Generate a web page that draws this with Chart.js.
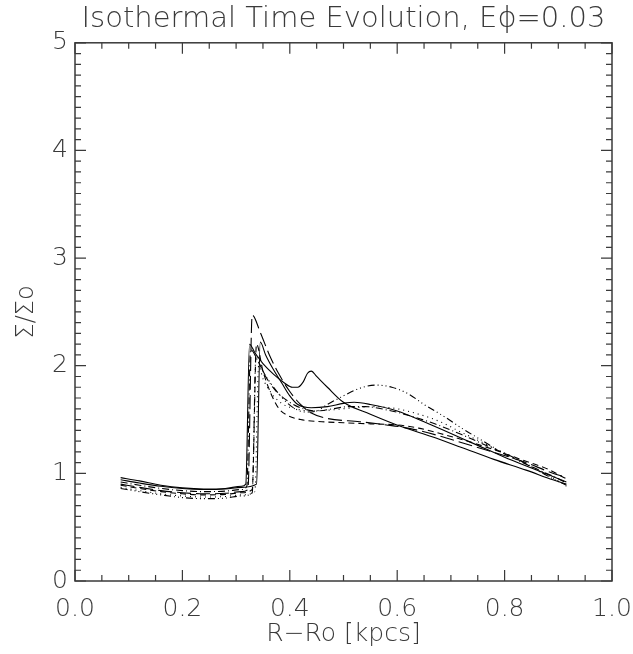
<!DOCTYPE html>
<html>
<head>
<meta charset="utf-8">
<script src="https://cdn.jsdelivr.net/npm/chart.js@4"></script>
<style>
	body { margin: 0; background: #ffffff; }
	canvas { display: block; }
</style>
</head>
<body>
<canvas id="evoChart" width="633" height="654"></canvas>
<script>
// Surface density profiles, one per time step (R-Ro in kpcs, Sigma/Sigma_o)
const xSolidA = [0.085, 0.12, 0.16, 0.2, 0.24, 0.28, 0.31, 0.318, 0.325, 0.335, 0.35, 0.37, 0.39, 0.405, 0.415, 0.425, 0.433, 0.44, 0.45, 0.47, 0.5, 0.55, 0.61, 0.665, 0.72, 0.78, 0.84, 0.89, 0.915];
const ySolidA = [0.96, 0.93, 0.89, 0.865, 0.855, 0.86, 0.88, 0.9, 2.2, 2.12, 2.02, 1.92, 1.84, 1.8, 1.8, 1.85, 1.93, 1.95, 1.9, 1.8, 1.66, 1.55, 1.43, 1.34, 1.24, 1.13, 1.03, 0.94, 0.9];

const xSolidB = [0.085, 0.12, 0.16, 0.2, 0.24, 0.28, 0.31, 0.338, 0.345, 0.355, 0.37, 0.385, 0.4, 0.415, 0.44, 0.47, 0.5, 0.52, 0.55, 0.6, 0.65, 0.7, 0.75, 0.8, 0.85, 0.9, 0.915];
const ySolidB = [0.94, 0.91, 0.88, 0.86, 0.85, 0.855, 0.87, 0.9, 2.22, 2.1, 1.96, 1.84, 1.72, 1.64, 1.61, 1.62, 1.65, 1.66, 1.64, 1.58, 1.48, 1.37, 1.26, 1.15, 1.05, 0.95, 0.92];

const xLongDash = [0.085, 0.12, 0.16, 0.2, 0.24, 0.28, 0.31, 0.322, 0.33, 0.345, 0.362, 0.38, 0.4, 0.42, 0.44, 0.47, 0.53, 0.58, 0.62, 0.67, 0.73, 0.79, 0.84, 0.88, 0.915];
const yLongDash = [0.9, 0.87, 0.84, 0.82, 0.81, 0.815, 0.83, 0.85, 2.47, 2.31, 2.1, 1.92, 1.76, 1.64, 1.56, 1.51, 1.48, 1.45, 1.42, 1.36, 1.27, 1.18, 1.1, 1.02, 0.96];

const xDashDot3 = [0.085, 0.12, 0.16, 0.2, 0.24, 0.28, 0.31, 0.33, 0.337, 0.35, 0.37, 0.39, 0.41, 0.43, 0.45, 0.47, 0.5, 0.53, 0.56, 0.59, 0.62, 0.65, 0.69, 0.72, 0.76, 0.8, 0.85, 0.89, 0.915];
const yDashDot3 = [0.86, 0.83, 0.8, 0.775, 0.765, 0.77, 0.79, 0.82, 2.1, 1.95, 1.8, 1.68, 1.6, 1.57, 1.58, 1.64, 1.72, 1.79, 1.82, 1.8, 1.74, 1.64, 1.52, 1.42, 1.3, 1.18, 1.06, 0.95, 0.89];

const xDotted = [0.085, 0.12, 0.16, 0.2, 0.24, 0.28, 0.31, 0.335, 0.342, 0.35, 0.365, 0.385, 0.41, 0.44, 0.48, 0.52, 0.56, 0.6, 0.64, 0.68, 0.72, 0.77, 0.82, 0.86, 0.9, 0.915];
const yDotted = [0.87, 0.84, 0.81, 0.79, 0.78, 0.785, 0.8, 0.83, 2.0, 1.88, 1.75, 1.65, 1.6, 1.58, 1.59, 1.61, 1.62, 1.6, 1.55, 1.48, 1.38, 1.26, 1.14, 1.03, 0.93, 0.88];

const xDashDot = [0.085, 0.12, 0.16, 0.2, 0.24, 0.28, 0.31, 0.32, 0.327, 0.34, 0.355, 0.375, 0.4, 0.425, 0.45, 0.48, 0.51, 0.54, 0.58, 0.62, 0.67, 0.72, 0.77, 0.82, 0.86, 0.9, 0.915];
const yDashDot = [0.92, 0.89, 0.86, 0.84, 0.83, 0.835, 0.85, 0.88, 2.15, 2.05, 1.9, 1.76, 1.66, 1.6, 1.58, 1.6, 1.62, 1.62, 1.59, 1.54, 1.46, 1.36, 1.25, 1.14, 1.04, 0.95, 0.91];

const xDashed = [0.085, 0.12, 0.16, 0.2, 0.24, 0.28, 0.31, 0.33, 0.338, 0.35, 0.365, 0.38, 0.395, 0.42, 0.46, 0.5, 0.55, 0.6, 0.64, 0.68, 0.73, 0.78, 0.83, 0.88, 0.915];
const yDashed = [0.89, 0.86, 0.83, 0.81, 0.8, 0.805, 0.82, 0.85, 2.2, 1.95, 1.74, 1.6, 1.54, 1.5, 1.48, 1.47, 1.46, 1.45, 1.42, 1.37, 1.3, 1.22, 1.13, 1.04, 0.95];

// Axis ticks
const xTicks = [0.0, 0.2, 0.4, 0.6, 0.8, 1.0];
const yTicks = [0, 1, 2, 3, 4, 5];

const INK = '#3a3a3a';
const FONT = 'DejaVu Sans';

function toPoints(xs, ys) {
	return xs.map((x, i) => ({ x: x, y: ys[i] }));
}

function series(xs, ys, dash) {
	return {
		data: toPoints(xs, ys),
		borderColor: '#000000',
		borderWidth: 1.1,
		borderDash: dash,
		pointRadius: 0,
		fill: false,
		cubicInterpolationMode: 'monotone'
	};
}

// Inward ticks on all four sides plus the frame
const framePlugin = {
	id: 'frame',
	afterDatasetsDraw(chart) {
		const { ctx, chartArea: a, scales: { x, y } } = chart;
		ctx.save();
		ctx.strokeStyle = INK;
		ctx.lineWidth = 1.5;
		ctx.setLineDash([]);
		ctx.strokeRect(a.left, a.top, a.right - a.left, a.bottom - a.top);
		ctx.lineWidth = 1.2;
		ctx.beginPath();
		for (let i = 0; i <= 20; i++) {
			const px = x.getPixelForValue(i * 0.05);
			const len = (i % 4 === 0) ? 11 : 6;
			ctx.moveTo(px, a.bottom); ctx.lineTo(px, a.bottom - len);
			ctx.moveTo(px, a.top); ctx.lineTo(px, a.top + len);
		}
		for (let i = 0; i <= 50; i++) {
			const py = y.getPixelForValue(i * 0.1);
			const len = (i % 10 === 0) ? 11 : 6;
			ctx.moveTo(a.left, py); ctx.lineTo(a.left + len, py);
			ctx.moveTo(a.right, py); ctx.lineTo(a.right - len, py);
		}
		ctx.stroke();
		ctx.restore();
	}
};

document.addEventListener('DOMContentLoaded', function() {
	const ctx = document.getElementById('evoChart').getContext('2d');
	new Chart(ctx, {
		type: 'line',
		data: {
			datasets: [
				series(xSolidA, ySolidA, []),
				series(xSolidB, ySolidB, []),
				series(xLongDash, yLongDash, [14, 5]),
				series(xDashDot3, yDashDot3, [7, 3, 1, 3, 1, 3, 1, 3]),
				series(xDotted, yDotted, [1, 4]),
				series(xDashDot, yDashDot, [7, 3, 1, 3]),
				series(xDashed, yDashed, [6, 4])
			]
		},
		options: {
			responsive: false,
			animation: false,
			layout: { padding: 0 },
			plugins: {
				legend: { display: false },
				tooltip: { enabled: false },
				title: {
					display: true,
					fullSize: false,
					text: 'Isothermal Time Evolution, E\u03D5=0.03',
					color: INK,
					font: { family: FONT, size: 29, weight: 200 },
					padding: { top: 2, bottom: 6 }
				}
			},
			scales: {
				x: {
					type: 'linear',
					min: 0,
					max: 1,
					afterBuildTicks: s => { s.ticks = xTicks.map(v => ({ value: v })); },
					afterFit: s => { s.height = 73; s.paddingLeft = 0; s.paddingRight = 21; },
					ticks: {
						callback: v => v.toFixed(1),
						color: INK,
						font: { family: FONT, size: 25, weight: 200 },
						padding: 13,
						maxRotation: 0,
						autoSkip: false
					},
					grid: { display: false, drawTicks: false },
					border: { display: false },
					title: {
						display: true,
						text: 'R\u2212Ro [kpcs]',
						color: INK,
						font: { family: FONT, size: 25, weight: 200 },
						padding: { top: 0, bottom: 5 }
					}
				},
				y: {
					type: 'linear',
					min: 0,
					max: 5,
					afterBuildTicks: s => { s.ticks = yTicks.map(v => ({ value: v })); },
					afterFit: s => { s.width = 75; },
					ticks: {
						callback: v => String(v),
						color: INK,
						font: { family: FONT, size: 25, weight: 200 },
						padding: 7,
						autoSkip: false
					},
					grid: { display: false, drawTicks: false },
					border: { display: false },
					title: {
						display: true,
						text: '\u03A3/\u03A3o',
						color: INK,
						font: { family: FONT, size: 24, weight: 200 },
						padding: { top: 12, bottom: 0 }
					}
				}
			}
		},
		plugins: [framePlugin]
	});
});
</script>
</body>
</html>
